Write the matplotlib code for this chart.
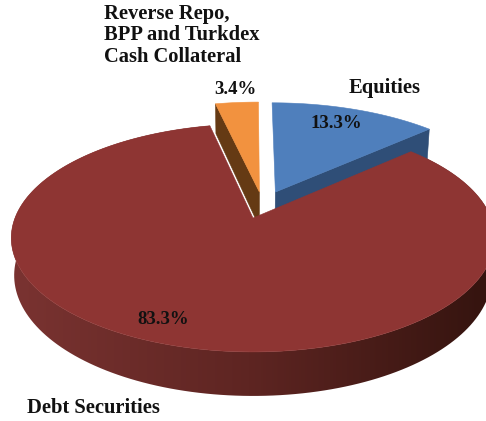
from matplotlib import pyplot as plt
from matplotlib.colors import LinearSegmentedColormap
from matplotlib.patches import Polygon
import numpy as np

# shares run clockwise from twelve o'clock
names = ['Equities', 'Debt Securities', 'Reverse Repo,\nBPP and Turkdex\nCash Collateral']
shares = [13.3, 83.3, 3.4]
share_labels = ['13.3%', '83.3%', '3.4%']

top_colors = ['#4f7fbc', '#8e3533', '#f2923f']
cut_colors = ['#2f4e77', '#5c2422', '#653a14']
wall_cmap = LinearSegmentedColormap.from_list('wall', ['#7a3331', '#5e2522', '#35140f'])

# explode offsets and radii of the slices in disc coordinates
offsets = [(0.098, 0.245), (0.0, 0.0), (0.028, 0.245)]
radii = [1.03, 1.0, 1.04]

# camera settings, in pixels
cx, cy = 253, 218
A, B, K, DEPTH = 238, 110.5, 0.175, 36.3


def project(u, v, z=0.0):
    # perspective view of the tilted disc, z=1 is the underside
    w = 1 + K * v
    s = 1 - 0.012 * z
    return cx + A * u * s / w, cy - (B * v - DEPTH * z) / w


def rim(a0, a1, off, r, z=0.0, n=200):
    t = np.radians(np.linspace(a0, a1, n))
    return project(off[0] + r * np.sin(t), off[1] + r * np.cos(t), z)


def cut_face(ax, angle, off, r, color):
    # radial face left open by pulling a slice out
    t = np.radians(angle)
    u, v = off[0] + r * np.sin(t), off[1] + r * np.cos(t)
    pts = [project(off[0], off[1]), project(u, v), project(u, v, 1), project(off[0], off[1], 1)]
    ax.add_patch(Polygon(pts, closed=True, fc=color, ec=color, lw=0.4))


def outer_wall(ax, a0, a1, off, r):
    # gradient image clipped to the side band, light on the left, dark on the right
    xs0, ys0 = rim(a0, a1, off, r, 0)
    xs1, ys1 = rim(a0, a1, off, r, 1)
    pts = np.column_stack((np.r_[xs0, xs1[::-1]], np.r_[ys0, ys1[::-1]]))
    band = Polygon(pts, closed=True, fc='none', ec='none', transform=ax.transData)
    ax.add_patch(band)
    ramp = np.linspace(0, 1, 256)[None, :]
    im = ax.imshow(ramp, cmap=wall_cmap, extent=(11, 486, 421, 0), aspect='auto',
                   interpolation='bilinear')
    im.set_clip_path(band)


def top_face(ax, a0, a1, off, r, color):
    xs, ys = rim(a0, a1, off, r)
    ax_x, ax_y = project(off[0], off[1])
    pts = np.column_stack((np.r_[ax_x, xs], np.r_[ax_y, ys]))
    ax.add_patch(Polygon(pts, closed=True, fc=color, ec=color, lw=0.4))


fig = plt.figure(figsize=(4.86, 4.21), dpi=100)
ax = fig.add_axes([0, 0, 1, 1])
ax.axis('off')

edges = np.r_[0, np.cumsum(shares)] * 3.6

# back slices first, the big slice sits in front of both
cut_face(ax, edges[1], offsets[0], radii[0], cut_colors[0])
top_face(ax, edges[0], edges[1], offsets[0], radii[0], top_colors[0])

cut_face(ax, edges[2], offsets[2], radii[2], cut_colors[2])
top_face(ax, edges[2], edges[3], offsets[2], radii[2], top_colors[2])

outer_wall(ax, edges[1], edges[2], offsets[1], radii[1])
top_face(ax, edges[1], edges[2], offsets[1], radii[1], top_colors[1])

ax.set_xlim(0, 486)
ax.set_ylim(421, 0)

font = dict(family='Liberation Serif', weight='bold', color='#111111')

ax.text(349, 88, names[0], ha='left', va='center', fontsize=14.8, **font)
ax.text(27, 408, names[1], ha='left', va='center', fontsize=14.8, **font)
ax.text(104, 35, names[2], ha='left', va='center', linespacing=1.1, fontsize=14.8, **font)

ax.text(336, 123, share_labels[0], ha='center', va='center', fontsize=13.5, **font)
ax.text(163, 320, share_labels[1], ha='center', va='center', fontsize=13.5, **font)
ax.text(235, 90, share_labels[2], ha='center', va='center', fontsize=13.5, **font)

fig.savefig('out.png', dpi=100)
